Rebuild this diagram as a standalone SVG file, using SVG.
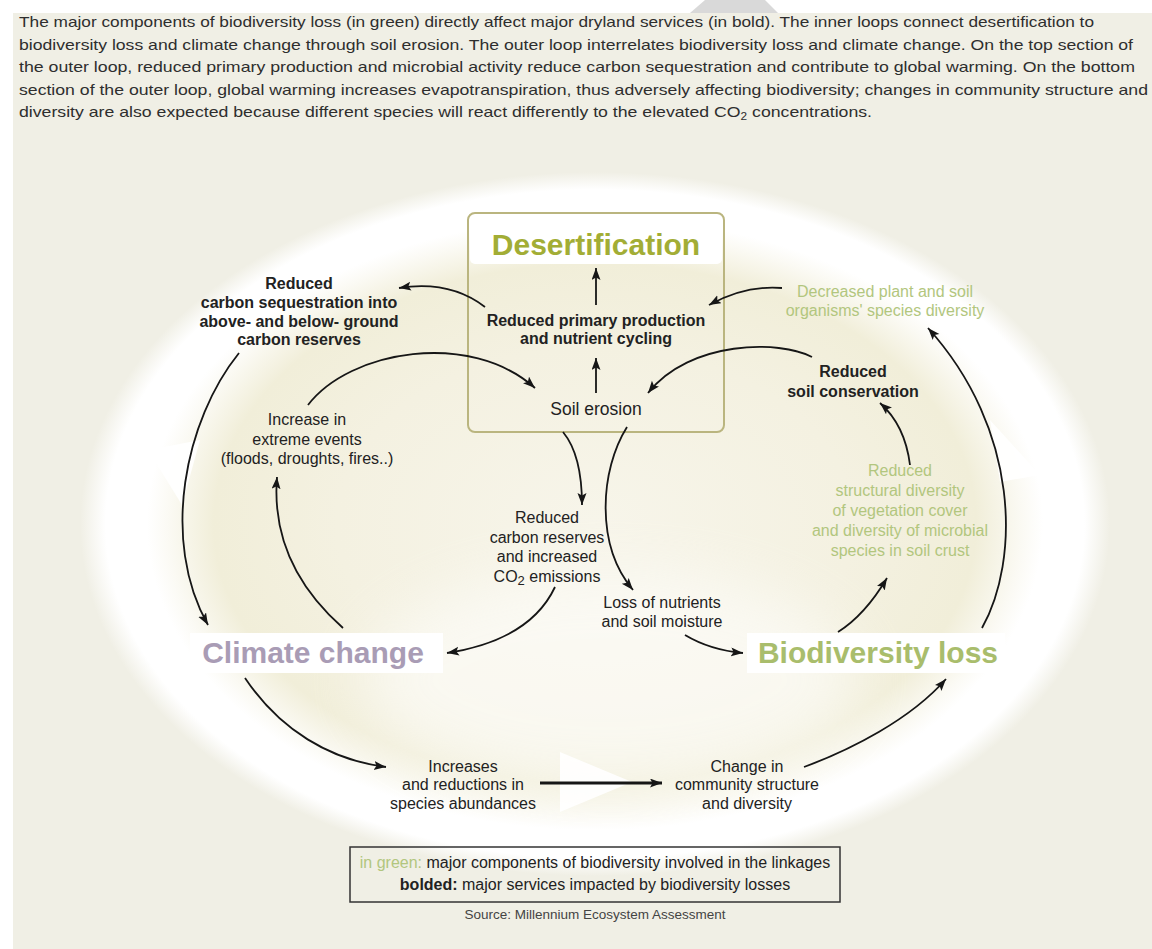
<svg xmlns="http://www.w3.org/2000/svg" width="1152" height="949" viewBox="0 0 1152 949">
<defs>
<style>
.t{font-family:"Liberation Sans",Arial,sans-serif;fill:#222;}
.d{font-size:15px;fill:#2e2e2e;}
.lb{font-size:16px;text-anchor:middle;}
.b{font-weight:bold;}
.g{fill:#b2c67e;}
.big{font-size:30px;font-weight:bold;text-anchor:middle;}
.ar{fill:none;stroke:#161616;stroke-width:1.8;marker-end:url(#ah);}
</style>
<marker id="ah" markerUnits="userSpaceOnUse" markerWidth="14" markerHeight="10" refX="12" refY="4.5" orient="auto">
<path d="M0,0 L12,4.5 L0,9 L2.5,4.5 Z" fill="#161616"/>
</marker>
<radialGradient id="band" cx="0.5" cy="0.5" r="0.5">
<stop offset="0" stop-color="#f7f5ea"/>
<stop offset="0.5" stop-color="#f4f1e1"/>
<stop offset="0.74" stop-color="#f1eed9"/>
<stop offset="0.83" stop-color="#fbfaf4"/>
<stop offset="0.87" stop-color="#ffffff"/>
<stop offset="0.95" stop-color="#ffffff"/>
<stop offset="1" stop-color="#f0efe5"/>
</radialGradient>
<filter id="soft" x="-30%" y="-30%" width="160%" height="160%"><feGaussianBlur stdDeviation="28"/></filter>
</defs>
<rect x="0" y="0" width="1152" height="949" fill="#ffffff"/>
<rect x="13" y="13" width="1139" height="936" fill="#f0efe5"/>
<polygon points="705,0 765,0 778,13 690,13" fill="#d9d9d9"/>

<g id="description" class="t d">
<text x="19" y="27" textLength="1075" lengthAdjust="spacingAndGlyphs">The major components of biodiversity loss (in green) directly affect major dryland services (in bold). The inner loops connect desertification to</text>
<text x="19" y="49.5" textLength="1114" lengthAdjust="spacingAndGlyphs">biodiversity loss and climate change through soil erosion. The outer loop interrelates biodiversity loss and climate change. On the top section of</text>
<text x="19" y="72" textLength="1116" lengthAdjust="spacingAndGlyphs">the outer loop, reduced primary production and microbial activity reduce carbon sequestration and contribute to global warming. On the bottom</text>
<text x="19" y="94.5" textLength="1129" lengthAdjust="spacingAndGlyphs">section of the outer loop, global warming increases evapotranspiration, thus adversely affecting biodiversity; changes in community structure and</text>
<text x="19" y="117" textLength="853" lengthAdjust="spacingAndGlyphs">diversity are also expected because different species will react differently to the elevated CO<tspan font-size="10" dy="3">2</tspan><tspan dy="-3"> concentrations.</tspan></text>
</g>

<g id="loop-background">
<ellipse cx="595" cy="524" rx="515" ry="352" fill="url(#band)"/>
<ellipse cx="610" cy="680" rx="250" ry="110" fill="#ffffff" opacity="0.55" filter="url(#soft)"/>
<polygon points="148,450 200,440 182,505" fill="#ffffff" opacity="0.9"/>
<polygon points="990,420 1040,475 1000,482" fill="#ffffff" opacity="0.9"/>
<polygon points="560,752 632,782 560,812" fill="#ffffff" opacity="0.9"/>
</g>

<g id="desertification">
<rect x="468" y="213" width="256" height="219" rx="7" fill="none" stroke="#bab57f" stroke-width="2"/>
<rect x="470" y="215" width="252" height="49" rx="5" fill="#ffffff"/>
<text class="t big" x="596" y="255" style="fill:#a2ad35">Desertification</text>
</g>

<g id="connectors">
<path class="ar" d="M596,305 L596,268"/>
<path class="ar" d="M596,393 L596,358"/>
<path class="ar" d="M485,307 Q450,280 399,288"/>
<path class="ar" d="M782,288 Q745,285 709,305"/>
<path class="ar" d="M308,405 C350,350 470,330 535,388"/>
<path class="ar" d="M812,357 C780,340 690,340 648,393"/>
<path class="ar" d="M563,432 Q582,455 582,505"/>
<path class="ar" d="M627,427 C600,470 595,545 633,590"/>
<path class="ar" d="M555,587 Q530,640 447,653"/>
<path class="ar" d="M685,635 Q710,650 743,653"/>
<path class="ar" d="M838,632 Q865,615 887,578"/>
<path class="ar" d="M910,465 Q905,425 880,403"/>
<path class="ar" d="M343,628 C300,590 272,540 277,477"/>
<path class="ar" d="M239,353 C185,420 160,540 208,625"/>
<path class="ar" d="M245,678 C280,730 330,760 386,767"/>
<path class="ar" d="M540,783 L662,783" style="stroke-width:2.8"/>
<path class="ar" d="M804,767 C850,750 910,720 946,679"/>
<path class="ar" d="M982,628 C1020,560 1020,430 928,328"/>
</g>

<g id="primary-production" class="t lb b">
<text x="596" y="326">Reduced primary production</text>
<text x="596" y="344">and nutrient cycling</text>
</g>
<g id="soil-erosion" class="t lb"><text x="596" y="415" font-size="17.5">Soil erosion</text></g>
<g id="carbon-sequestration" class="t lb b">
<text x="299" y="289">Reduced</text>
<text x="299" y="308">carbon sequestration into</text>
<text x="299" y="327">above- and below- ground</text>
<text x="299" y="345">carbon reserves</text>
</g>
<g id="species-diversity" class="t lb">
<text class="g" x="885" y="297">Decreased plant and soil</text>
<text class="g" x="885" y="316">organisms' species diversity</text>
</g>
<g id="soil-conservation" class="t lb b">
<text x="853" y="377">Reduced</text>
<text x="853" y="397">soil conservation</text>
</g>
<g id="extreme-events" class="t lb">
<text x="307" y="425">Increase in</text>
<text x="307" y="445">extreme events</text>
<text x="307" y="464">(floods, droughts, fires..)</text>
</g>
<g id="structural-diversity" class="t lb">
<text class="g" x="900" y="476">Reduced</text>
<text class="g" x="900" y="496">structural diversity</text>
<text class="g" x="900" y="516">of vegetation cover</text>
<text class="g" x="900" y="536">and diversity of microbial</text>
<text class="g" x="900" y="556">species in soil crust</text>
</g>
<g id="carbon-reserves" class="t lb">
<text x="547" y="523">Reduced</text>
<text x="547" y="543">carbon reserves</text>
<text x="547" y="562">and increased</text>
<text x="547" y="582">CO<tspan font-size="13" dy="3">2</tspan><tspan dy="-3"> emissions</tspan></text>
</g>
<g id="nutrients" class="t lb">
<text x="662" y="608">Loss of nutrients</text>
<text x="662" y="627">and soil moisture</text>
</g>
<g id="climate-change">
<rect x="190" y="633" width="253" height="40" fill="#ffffff"/>
<text class="t big" x="313" y="663" style="fill:#a99cb5">Climate change</text>
</g>
<g id="biodiversity-loss">
<rect x="747" y="633" width="258" height="40" fill="#ffffff"/>
<text class="t big" x="878" y="663" style="fill:#a9bd6c">Biodiversity loss</text>
</g>
<g id="abundances" class="t lb">
<text x="463" y="772">Increases</text>
<text x="463" y="790">and reductions in</text>
<text x="463" y="809">species abundances</text>
</g>
<g id="community" class="t lb">
<text x="747" y="772">Change in</text>
<text x="747" y="790">community structure</text>
<text x="747" y="809">and diversity</text>
</g>

<g id="legend">
<rect x="350" y="847" width="490" height="55" fill="none" stroke="#333333" stroke-width="1.5"/>
<text class="t lb" x="595" y="868"><tspan class="g">in green:</tspan> major components of biodiversity involved in the linkages</text>
<text class="t lb" x="595" y="890"><tspan class="b">bolded:</tspan> major services impacted by biodiversity losses</text>
<text class="t" x="595" y="919" font-size="13.5" text-anchor="middle" style="fill:#444">Source: Millennium Ecosystem Assessment</text>
</g>
</svg>
